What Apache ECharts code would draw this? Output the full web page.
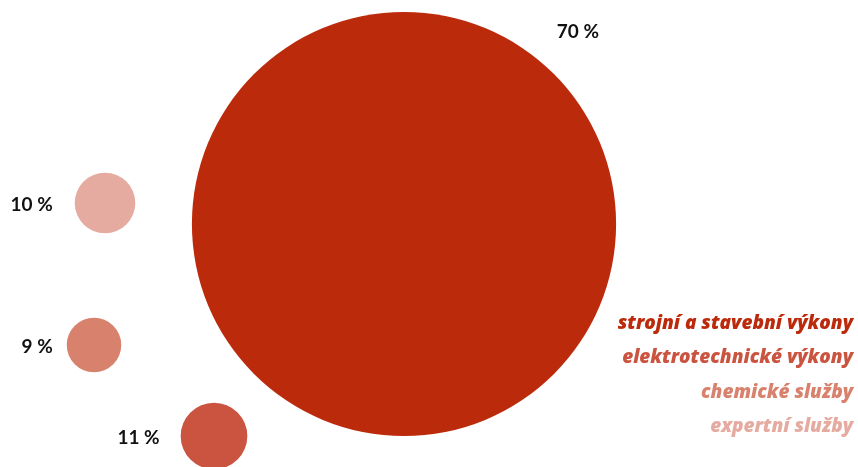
<!DOCTYPE html>
<html>
<head>
<meta charset="utf-8">
<script src="https://cdn.jsdelivr.net/npm/echarts@6/dist/echarts.min.js"></script>
<style>
  html, body { margin: 0; padding: 0; background: #fff; }
  #chart { width: 858px; height: 467px; }
</style>
</head>
<body>
<div id="chart"></div>
<script>
// Share of services (percent) — one bubble per category
const categories = ['strojní a stavební výkony', 'elektrotechnické výkony', 'chemické služby', 'expertní služby'];
const shares = [70, 11, 9, 10];
const colors = ['#BC2A0C', '#CB5440', '#D8826E', '#E5ABA0'];

// Bubble placement on the canvas (pixel space of the hidden axes)
const centers = [[404, 224], [214, 436], [94, 345], [105, 203]];
// Gap between a small bubble and its value label
const labelGaps = [0, 21, 14, 22];
// Radius grows linearly with the share
const pxPerPercent = 6.06;

const labelFont = { fontFamily: 'Lato', fontWeight: 'bold', fontSize: 19, color: '#111' };

const series = categories.map((name, i) => {
  const big = i === 0;
  return {
    name: name,
    type: 'scatter',
    data: [[centers[i][0], centers[i][1], shares[i]]],
    symbolSize: d => d[2] * pxPerPercent,
    itemStyle: { color: colors[i], opacity: 1 },
    emphasis: { disabled: true },
    label: Object.assign({
      show: true,
      formatter: p => p.value[2] + ' %'
    }, labelFont, big
      ? { position: [386, 20], align: 'center', verticalAlign: 'middle' }
      : { position: 'left', distance: labelGaps[i], offset: [0, 2] })
  };
});

const legendTops = [314, 348.5, 383, 417];
const legends = categories.map((name, i) => ({
  data: [name],
  right: 5,
  top: legendTops[i],
  icon: 'none',
  itemWidth: 0,
  itemGap: 0,
  selectedMode: false,
  padding: 0,
  textStyle: {
    color: colors[i],
    fontFamily: 'Open Sans',
    fontStyle: 'italic',
    fontWeight: 800,
    fontSize: 19
  }
}));

const chart = echarts.init(document.getElementById('chart'), null, { renderer: 'canvas' });
chart.setOption({
  animation: false,
  backgroundColor: '#ffffff',
  grid: { left: 0, right: 0, top: 0, bottom: 0 },
  xAxis: { type: 'value', min: 0, max: 858, show: false },
  yAxis: { type: 'value', min: 0, max: 467, inverse: true, show: false },
  legend: legends,
  series: series
});
</script>
</body>
</html>
